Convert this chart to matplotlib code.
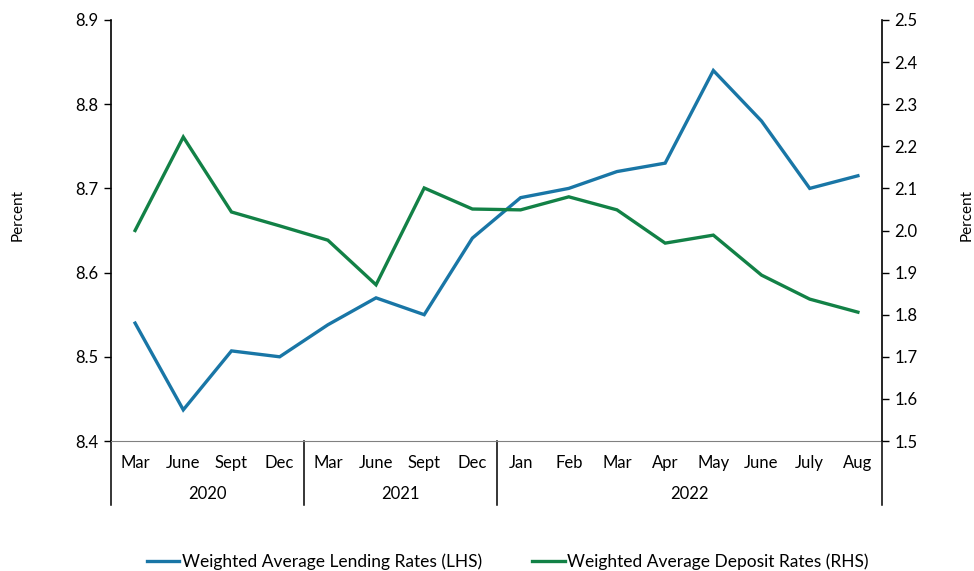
import matplotlib
matplotlib.use("Agg")
import matplotlib.pyplot as plt
import matplotlib.transforms as mtransforms

months = ["Mar", "June", "Sept", "Dec", "Mar", "June", "Sept", "Dec",
          "Jan", "Feb", "Mar", "Apr", "May", "June", "July", "Aug"]
years = ["2020", "2021", "2022"]
year_counts = [4, 4, 8]
lending = [8.54, 8.437, 8.507, 8.50, 8.538, 8.57, 8.55, 8.641,
           8.689, 8.70, 8.72, 8.73, 8.84, 8.78, 8.70, 8.715]
deposit = [2.00, 2.222, 2.044, 2.011, 1.977, 1.871, 2.101, 2.051,
           2.049, 2.080, 2.049, 1.970, 1.989, 1.894, 1.837, 1.806]

plt.rcParams['font.family'] = ['Lato', 'DejaVu Sans']
blue = "#1976A6"
green = "#128146"

fig = plt.figure(figsize=(9.74, 5.71), dpi=100)
ax = fig.add_axes([111/974, 1-441/571, (882-111)/974, (441-20)/571])
ax2 = ax.twinx()

x = list(range(len(months)))
l1, = ax.plot(x, lending, color=blue, lw=2.4, solid_joinstyle='miter')
l2, = ax2.plot(x, deposit, color=green, lw=2.4, solid_joinstyle='miter')

ax.set_xlim(-0.5, len(months)-0.5)
ax.set_ylim(8.4, 8.9)
ax.set_yticks([8.4, 8.5, 8.6, 8.7, 8.8, 8.9])
ax.set_yticklabels(["8.4", "8.5", "8.6", "8.7", "8.8", "8.9"])
ax2.set_ylim(1.5, 2.5)
ax2.set_yticks([1.5, 1.6, 1.7, 1.8, 1.9, 2.0, 2.1, 2.2, 2.3, 2.4, 2.5])
ax2.set_yticklabels(["1.5", "1.6", "1.7", "1.8", "1.9", "2.0", "2.1", "2.2", "2.3", "2.4", "2.5"])

for a in (ax, ax2):
    a.spines['top'].set_visible(False)
    a.tick_params(axis='y', labelsize=12, length=5, width=1, pad=4, colors='black')
    a.set_xticks([])
    a.spines['bottom'].set_color('#808080')
ax2.spines['left'].set_visible(False)
ax.spines['right'].set_visible(False)
ax2.spines['bottom'].set_visible(False)
ax.spines['left'].set_linewidth(1.2)
ax2.spines['right'].set_linewidth(1.2)

trans = mtransforms.blended_transform_factory(ax.transData, fig.transFigure)
y_month = 1 - 463/571
y_year = 1 - 494/571
for i, m in enumerate(months):
    ax.text(i, y_month, m, transform=trans, ha='center', va='center', fontsize=12)

bounds = [0]
for c in year_counts:
    bounds.append(bounds[-1] + c)
y_top = 1 - 441/571
y_bot = 1 - 505/571
for b in bounds:
    xb = b - 0.5
    ax.plot([xb, xb], [y_top, y_bot], transform=trans, color='black', lw=1.1, clip_on=False)
for k, yr in enumerate(years):
    xc = (bounds[k] + bounds[k+1] - 1) / 2
    ax.text(xc, y_year, yr, transform=trans, ha='center', va='center', fontsize=12)

fig.text(18/974, 1-215/571, "Percent", rotation=90, ha='center', va='center', fontsize=11)
fig.text(967/974, 1-215/571, "Percent", rotation=90, ha='center', va='center', fontsize=11)

fig.legend([l1, l2], ["Weighted Average Lending Rates (LHS)", "Weighted Average Deposit Rates (RHS)"],
           loc='center', bbox_to_anchor=(508/974, 1-562/571), ncol=2, frameon=False,
           fontsize=12.5, handlelength=1.85, handletextpad=0.15, columnspacing=2.9,
           borderpad=0.0)

fig.savefig("out.png", dpi=100)
